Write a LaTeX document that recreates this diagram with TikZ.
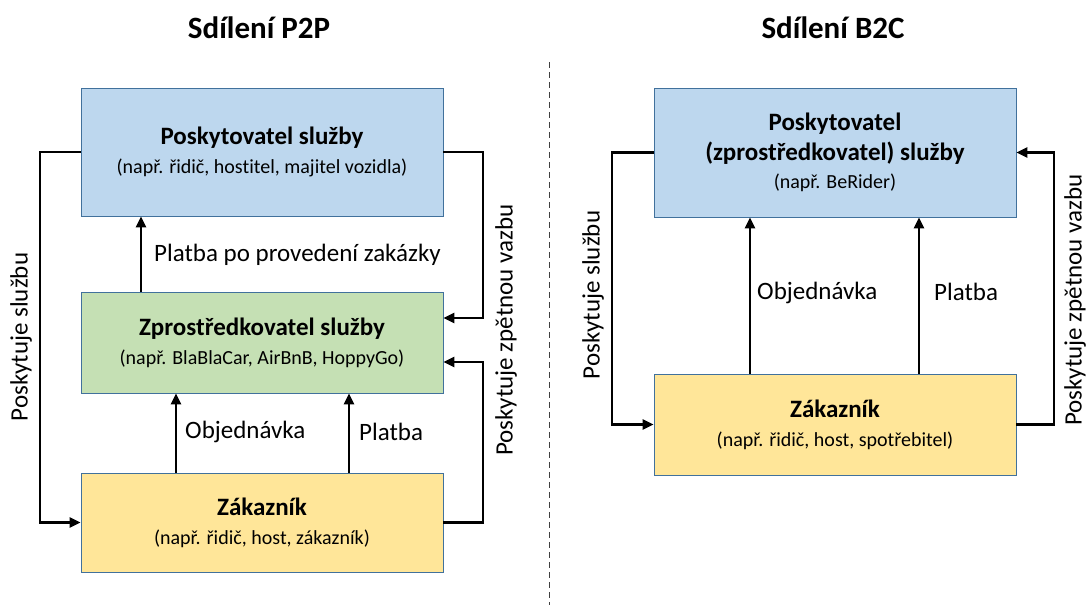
\documentclass[tikz,border=0pt]{standalone}
\usepackage{fontspec}
\setmainfont{Carlito}[Ligatures=NoCommon]
\usetikzlibrary{arrows.meta}

\definecolor{provfill}{HTML}{BDD7EE}
\definecolor{midfill}{HTML}{C5E0B4}
\definecolor{custfill}{HTML}{FFE699}
\definecolor{boxline}{HTML}{41719C}
\definecolor{sepline}{HTML}{404040}

\newcommand{\titlefont}{\fontsize{31}{36}\selectfont\bfseries}
\newcommand{\headfont}{\fontsize{25}{30}\selectfont\bfseries}
\newcommand{\notefont}{\fontsize{20}{25}\selectfont}
\newcommand{\labfont}{\fontsize{25}{30}\selectfont}

\begin{document}
\begin{tikzpicture}[x=1pt, y=-1pt,
  box/.style={draw=boxline, line width=0.8pt, minimum width=362pt, align=center, inner sep=0pt, font=\notefont},
  link/.style={line width=2.4pt, -{Triangle[length=11pt,width=10pt]}},
  lab/.style={font=\labfont, inner sep=0pt}]
 \useasboundingbox (0,0) rectangle (1088,605);

 % Sdileni P2P
 \node[font=\titlefont] (t1) at (259,28) {Sdílení P2P};

 \node[box, fill=provfill, minimum height=128pt] (prov1) at (262,152)
  {{\headfont Poskytovatel služby}\\[4pt](např. řidič, hostitel, majitel vozidla)};
 \node[box, fill=midfill, minimum height=101pt] (mid1) at (262,342.5)
  {{\headfont Zprostředkovatel služby}\\[4pt](např. BlaBlaCar, AirBnB, HoppyGo)};
 \node[box, fill=custfill, minimum height=99pt] (cust1) at (262,522.5)
  {{\headfont Zákazník}\\[4pt](např. řidič, host, zákazník)};

 \path coordinate (l1) at (40,152)
  coordinate (r1) at (483,152)
  coordinate (r2) at (483,522.5);

 \draw[link] (prov1.west) -- (l1) |- (cust1.west);
 \draw[link] (prov1.east) -- (r1) |- ([yshift=24.5pt]mid1.east);
 \draw[link] (cust1.east) -- (r2) |- ([yshift=-19.5pt]mid1.east);

 \draw[link] ([xshift=-121pt]mid1.north) -- ([xshift=-121pt]prov1.south);
 \draw[link] ([xshift=-86pt]cust1.north) -- ([xshift=-86pt]mid1.south);
 \draw[link] ([xshift=87pt]cust1.north) -- ([xshift=87pt]mid1.south);

 \node[lab, anchor=west] (pay1) at (154,255) {Platba po provedení zakázky};
 \node[lab, anchor=west] (ord1) at (185,432) {Objednávka};
 \node[lab, anchor=west] (pay2) at (359,432) {Platba};
 \node[lab, rotate=90] (serv1) at (21,337) {Poskytuje službu};
 \node[lab, rotate=90] (fb1) at (506,330) {Poskytuje zpětnou vazbu};

 % oddeleni
 \path coordinate (s1) at (549,62) coordinate (s2) at (549,605);
 \draw[sepline, line width=0.8pt, dash pattern=on 6pt off 4pt] (s1) -- (s2);

 % Sdileni B2C
 \node[font=\titlefont] (t2) at (833,28) {Sdílení B2C};

 \node[box, fill=provfill, minimum height=129pt] (prov2) at (835,152.5)
  {{\headfont Poskytovatel}\\[5pt]{\headfont (zprostředkovatel) služby}\\[3pt](např. BeRider)};
 \node[box, fill=custfill, minimum height=101pt] (cust2) at (835,424.5)
  {{\headfont Zákazník}\\[4pt](např. řidič, host, spotřebitel)};

 \path coordinate (l3) at (612,152.5)
  coordinate (r3) at (1054,424.5);

 \draw[link] (prov2.west) -- (l3) |- (cust2.west);
 \draw[link] (cust2.east) -- (r3) |- (prov2.east);
 \draw[link] ([xshift=-85pt]cust2.north) -- ([xshift=-85pt]prov2.south);
 \draw[link] ([xshift=84pt]cust2.north) -- ([xshift=84pt]prov2.south);

 \node[lab, anchor=west] (ord2) at (757,293) {Objednávka};
 \node[lab, anchor=west] (pay3) at (934,292) {Platba};
 \node[lab, rotate=90] (serv2) at (593,295) {Poskytuje službu};
 \node[lab, rotate=90] (fb2) at (1075,300) {Poskytuje zpětnou vazbu};

\end{tikzpicture}
\end{document}
